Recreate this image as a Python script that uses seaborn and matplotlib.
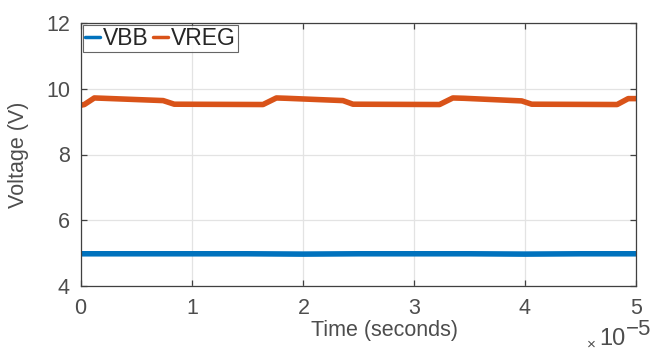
import matplotlib
matplotlib.use("Agg")
import matplotlib.pyplot as plt
import matplotlib.ticker as mticker
import numpy as np
import pandas as pd
import seaborn as sns

# Supply rails measured over 50 microseconds (breakpoints of the traces)
vbb_time = [0.0, 0.5e-5, 1.0e-5, 1.5e-5, 2.0e-5, 2.5e-5, 3.0e-5, 3.5e-5, 4.0e-5, 4.5e-5, 5.0e-5]
vbb_volts = [4.98, 4.98, 4.98, 4.98, 4.97, 4.98, 4.98, 4.98, 4.97, 4.98, 4.98]

vreg_time = [0.0, 0.03e-5, 0.12e-5, 0.20e-5, 0.74e-5, 0.84e-5, 1.64e-5, 1.76e-5,
             1.85e-5, 2.36e-5, 2.45e-5, 3.23e-5, 3.35e-5, 3.45e-5, 3.97e-5,
             4.06e-5, 4.83e-5, 4.93e-5, 5.0e-5]
vreg_volts = [9.50, 9.52, 9.72, 9.71, 9.64, 9.53, 9.52, 9.72, 9.71, 9.64, 9.53,
              9.52, 9.72, 9.71, 9.63, 9.53, 9.52, 9.70, 9.70]

y_ticks = [4, 6, 8, 10, 12]
x_ticks = [0, 1e-5, 2e-5, 3e-5, 4e-5, 5e-5]

sns.set_theme(style="whitegrid")
plt.rcParams["font.family"] = ["Liberation Sans", "DejaVu Sans"]

text_c = "#4d4d4d"
axis_c = "#404040"

df = pd.concat([
    pd.DataFrame({"t": vbb_time, "v": vbb_volts, "signal": "VBB"}),
    pd.DataFrame({"t": vreg_time, "v": vreg_volts, "signal": "VREG"}),
])

fig = plt.figure(figsize=(6.56, 3.52), dpi=100)
ax = fig.add_axes([81 / 656, 1 - 286 / 352, (636 - 81) / 656, (286 - 23) / 352])

sns.lineplot(data=df, x="t", y="v", hue="signal",
             palette={"VBB": "#0072BD", "VREG": "#D95319"},
             linewidth=4.0, ax=ax, estimator=None, sort=False)

ax.set_xlim(0, 5e-5)
ax.set_ylim(4, 12)
ax.set_xticks(x_ticks)
ax.set_yticks(y_ticks)

fmt = mticker.ScalarFormatter(useMathText=True)
fmt.set_powerlimits((0, 0))
ax.xaxis.set_major_formatter(fmt)
ax.xaxis.get_offset_text().set_visible(False)

ax.grid(True, color="#e3e3e3", linewidth=0.9)
for s in ax.spines.values():
    s.set_visible(True)
    s.set_color(axis_c)
    s.set_linewidth(0.9)

ax.tick_params(axis="both", direction="in", length=4, width=0.9, color=axis_c,
               labelsize=15.5, labelcolor=text_c, top=True, right=True,
               bottom=True, left=True)
ax.tick_params(axis="x", pad=8.5)
ax.tick_params(axis="y", pad=8)

ax.set_xlabel("Time (seconds)", fontsize=15.5, color=text_c)
ax.xaxis.set_label_coords(0.547, -0.13)
ax.set_ylabel("Voltage (V)", fontsize=15.5, color=text_c, labelpad=12)

# exponent of the time axis
fig.text(587 / 656, 1 - 349 / 352, "\u00d7", fontsize=11, color=text_c,
         ha="left", va="baseline")
fig.text(599 / 656, 1 - 345 / 352, "10", fontsize=17, color=text_c,
         ha="left", va="baseline")
fig.text(626 / 656, 1 - 335 / 352, "\u22125", fontsize=16, color=text_c,
         ha="left", va="baseline")

leg = ax.legend(loc="upper left", ncol=2, frameon=True, fancybox=False,
                fontsize=16.5, handlelength=0.65, handletextpad=0.13,
                columnspacing=0.2, borderpad=0.08, borderaxespad=0.1,
                labelcolor="#262626")
leg.get_frame().set_edgecolor(axis_c)
leg.get_frame().set_linewidth(0.8)
for line in leg.get_lines():
    line.set_linewidth(2.5)

fig.savefig("out.png", dpi=100)
